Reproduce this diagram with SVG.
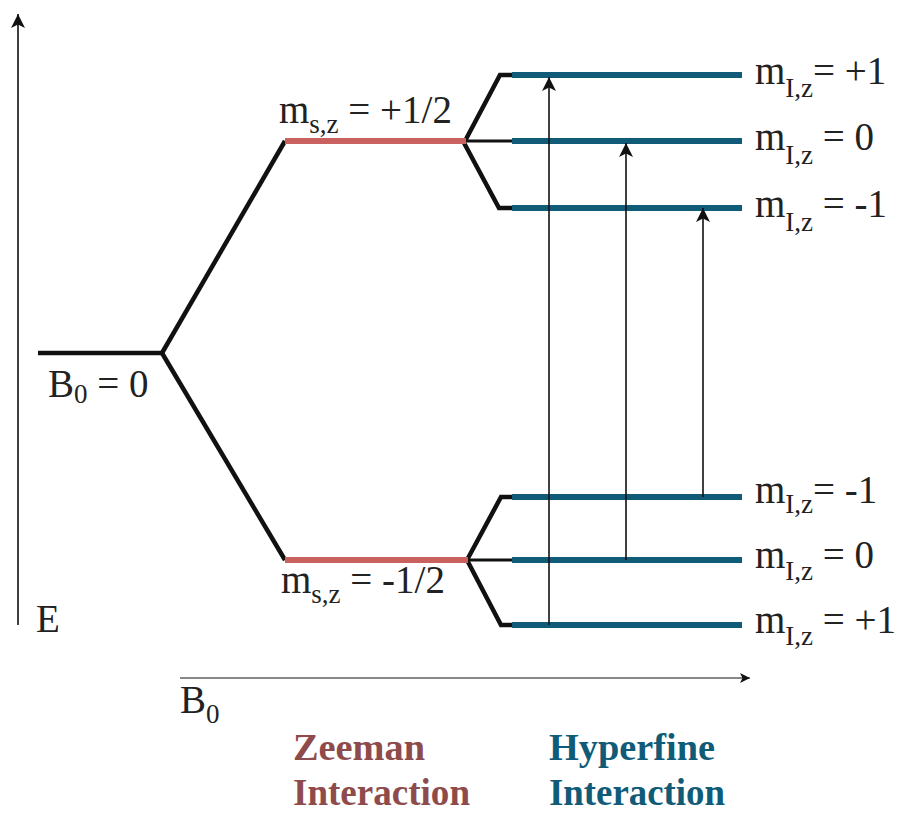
<svg xmlns="http://www.w3.org/2000/svg" width="903" height="814" viewBox="0 0 903 814">
<defs>
<marker id="ah" viewBox="0 0 10 10" refX="10" refY="5" markerWidth="10" markerHeight="10" markerUnits="userSpaceOnUse" orient="auto">
<path d="M0,0 L10,5 L0,10 L2.5,5 Z" fill="#111"/>
</marker>
<marker id="ahL" viewBox="0 0 10 10" refX="10" refY="5" markerWidth="14" markerHeight="14" markerUnits="userSpaceOnUse" orient="auto">
<path d="M0,0 L10,5 L0,10 L2.5,5 Z" fill="#111"/>
</marker>
</defs>
<style>
text{font-family:'Liberation Serif','DejaVu Serif',serif}
.lbl{font-size:39px;fill:#222}
.sub{font-size:27px}
.bold{font-size:37px;font-weight:bold}
.blk{stroke:#111;fill:none;stroke-width:4.5;stroke-linejoin:miter}
.thin{stroke:#111;fill:none;stroke-width:3}
.red{stroke:#c9625e;stroke-width:6;fill:none}
.blue{stroke:#0f5b78;stroke-width:6;fill:none}
.tr{stroke:#111;stroke-width:1.6;fill:none}
</style>
<rect width="903" height="814" fill="#fff"/>
<g id="axes">
<line x1="18" y1="625" x2="18" y2="14" stroke="#111" stroke-width="1.6" marker-end="url(#ahL)"/>
<line x1="180" y1="678" x2="750" y2="678" stroke="#888" stroke-width="2" marker-end="url(#ah)"/>
<text class="lbl" x="36" y="632" font-family="Liberation Serif, serif">E</text>
<text class="lbl" x="180" y="713" font-family="Liberation Serif, serif">B<tspan class="sub" dy="10">0</tspan></text>
</g>
<g id="connectors">
<path class="blk" d="M38,353 H162"/>
<path class="blk" d="M162,353 L285,141"/>
<path class="blk" d="M162,353 L285,560"/>
<path class="blk" d="M465,141 L500,75 H514"/>
<path class="thin" d="M465,141 H514"/>
<path class="blk" d="M463,141 L499,208 H514"/>
<path class="blk" d="M467,560 L501,497 H514"/>
<path class="thin" d="M467,560 H514"/>
<path class="blk" d="M467,560 L501,625 H514"/>
</g>
<g id="zero-field">
<text class="lbl" x="48" y="397">B<tspan class="sub" dy="6">0</tspan><tspan dy="-6"> = 0</tspan></text>
</g>
<g id="zeeman-up">
<line class="red" x1="285" y1="141" x2="466" y2="141"/>
<text class="lbl" x="279" y="123">m<tspan class="sub" dy="10">s,z</tspan><tspan dy="-10"> = +1/2</tspan></text>
</g>
<g id="zeeman-down">
<line class="red" x1="285" y1="560" x2="468" y2="560"/>
<text class="lbl" x="281" y="593">m<tspan class="sub" dy="10">s,z</tspan><tspan dy="-10"> = -1/2</tspan></text>
</g>
<g id="hf-up-p1">
<line class="blue" x1="512" y1="75" x2="742" y2="75"/>
<text class="lbl" x="755" y="84">m<tspan class="sub" dy="13">I,z</tspan><tspan dy="-13">= +1</tspan></text>
</g>
<g id="hf-up-0">
<line class="blue" x1="512" y1="141" x2="742" y2="141"/>
<text class="lbl" x="755" y="150">m<tspan class="sub" dy="14">I,z</tspan><tspan dy="-14"> = 0</tspan></text>
</g>
<g id="hf-up-m1">
<line class="blue" x1="512" y1="208" x2="742" y2="208"/>
<text class="lbl" x="755" y="217">m<tspan class="sub" dy="14">I,z</tspan><tspan dy="-14"> = -1</tspan></text>
</g>
<g id="hf-down-m1">
<line class="blue" x1="512" y1="497" x2="742" y2="497"/>
<text class="lbl" x="755" y="503">m<tspan class="sub" dy="10">I,z</tspan><tspan dy="-10">= -1</tspan></text>
</g>
<g id="hf-down-0">
<line class="blue" x1="512" y1="560" x2="742" y2="560"/>
<text class="lbl" x="755" y="568">m<tspan class="sub" dy="12">I,z</tspan><tspan dy="-12"> = 0</tspan></text>
</g>
<g id="hf-down-p1">
<line class="blue" x1="512" y1="625" x2="742" y2="625"/>
<text class="lbl" x="755" y="633">m<tspan class="sub" dy="12">I,z</tspan><tspan dy="-12"> = +1</tspan></text>
</g>
<g id="transitions">
<line class="tr" x1="549" y1="625" x2="549" y2="77" marker-end="url(#ahL)"/>
<line class="tr" x1="626" y1="560" x2="626" y2="143" marker-end="url(#ahL)"/>
<line class="tr" x1="703" y1="497" x2="703" y2="208" marker-end="url(#ahL)"/>
</g>
<g id="captions">
<text class="bold" fill="#8e4b4c" x="293" y="760" textLength="132" lengthAdjust="spacingAndGlyphs">Zeeman</text>
<text class="bold" fill="#8e4b4c" x="293" y="805" textLength="177" lengthAdjust="spacingAndGlyphs">Interaction</text>
<text class="bold" fill="#0f5b78" x="549" y="760" textLength="166" lengthAdjust="spacingAndGlyphs">Hyperfine</text>
<text class="bold" fill="#0f5b78" x="549" y="805" textLength="176" lengthAdjust="spacingAndGlyphs">Interaction</text>
</g>
</svg>
